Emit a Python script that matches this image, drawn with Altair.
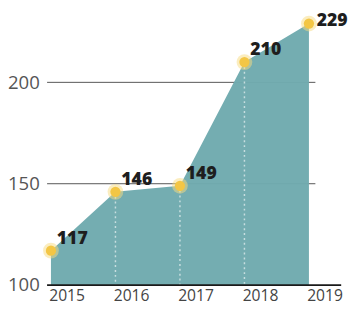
import altair as alt
import pandas as pd

years = [2015, 2016, 2017, 2018, 2019]
values = [117, 146, 149, 210, 229]
grid_values = [150, 200]
y_ticks = [100, 150, 200]
x_ticks = [2015, 2016, 2017, 2018, 2019]

df = pd.DataFrame({"year": years, "value": values, "base": [100] * len(values)})
inner = df[(df.year > 2015) & (df.year < 2019)]
last = df[df.year == 2019]
rest = df[df.year < 2019]
grid = pd.DataFrame({"g": grid_values, "x0": [2014.94] * 2, "x1": [2019.1] * 2})
baseline = pd.DataFrame({"g": [100], "x0": [2014.94], "x1": [2019.5]})

xs = alt.Scale(domain=[2014.94, 2019.5], nice=False, zero=False)
ys = alt.Scale(domain=[100, 233], nice=False, zero=False)

FONT = "Open Sans"

gridlines = alt.Chart(grid).mark_rule(color="#555555", strokeWidth=1).encode(
    x=alt.X("x0:Q", scale=xs, axis=alt.Axis(values=x_ticks, format="d", labelOffset=16,
                                               domain=False, ticks=False, grid=False,
                                               labelPadding=3, labelFontSize=16,
                                               labelColor="#444444", labelFont=FONT,
                                               title=None)),
    x2="x1:Q",
    y=alt.Y("g:Q", scale=ys, axis=alt.Axis(values=y_ticks, domain=False, ticks=False,
                                            grid=False, labelPadding=8, labelFontSize=19,
                                            labelColor="#555555", labelFont=FONT,
                                            title=None)),
)

area = alt.Chart(df).mark_area(color="#70aaae", opacity=0.97).encode(
    x=alt.X("year:Q", scale=xs),
    y=alt.Y("value:Q", scale=ys),
    y2="base:Q",
)

dots = alt.Chart(inner).mark_rule(color="white", strokeDash=[2, 3], strokeWidth=1.5, opacity=0.6).encode(
    x=alt.X("year:Q", scale=xs),
    y=alt.Y("value:Q", scale=ys),
    y2="base:Q",
)

base_rule = alt.Chart(baseline).mark_rule(color="#1a1a1a", strokeWidth=2).encode(
    x=alt.X("x0:Q", scale=xs),
    x2="x1:Q",
    y=alt.Y("g:Q", scale=ys),
)

glow = alt.Chart(df).mark_circle(color="#f7dc80", opacity=0.5, size=260).encode(
    x=alt.X("year:Q", scale=xs),
    y=alt.Y("value:Q", scale=ys),
)
points = alt.Chart(df).mark_circle(color="#f3c645", opacity=1, size=110).encode(
    x=alt.X("year:Q", scale=xs),
    y=alt.Y("value:Q", scale=ys),
)

label_style = dict(align="left", baseline="middle", fontSize=18, fontWeight=800,
                   font=FONT, color="#1e1e1e")
labels = alt.Chart(rest).mark_text(dx=6, dy=-12, **label_style).encode(
    x=alt.X("year:Q", scale=xs),
    y=alt.Y("value:Q", scale=ys),
    text="value:Q",
)
label_last = alt.Chart(last).mark_text(dx=8, dy=-2, **label_style).encode(
    x=alt.X("year:Q", scale=xs),
    y=alt.Y("value:Q", scale=ys),
    text="value:Q",
)

chart = alt.layer(gridlines, area, dots, base_rule, glow, points, labels, label_last).properties(
    width=301, height=276,
    padding={"left": 40, "top": 4, "right": 8, "bottom": 28},
    autosize="none",
).configure_view(stroke=None)

chart.save("out.html", embed_options={"renderer": "svg", "actions": False})
